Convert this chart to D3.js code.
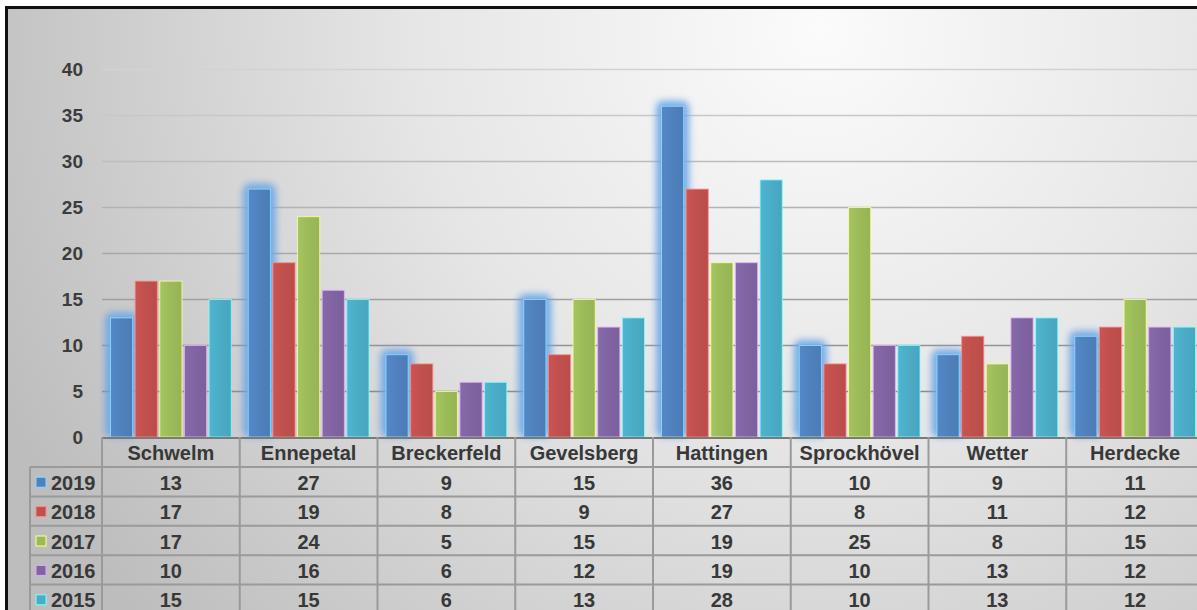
<!DOCTYPE html>
<html>
<head>
<meta charset="utf-8">
<script src="https://cdn.jsdelivr.net/npm/d3@7"></script>
<style>
html,body{margin:0;padding:0;background:#fff;overflow:hidden;}
svg{display:block;}
text{font-family:"Liberation Sans",Arial,sans-serif;font-weight:bold;}
</style>
</head>
<body>
<svg id="chart" width="1197" height="610"></svg>
<script>
const categories = ["Schwelm","Ennepetal","Breckerfeld","Gevelsberg","Hattingen","Sprockhövel","Wetter","Herdecke"];
const seriesNames = ["2019","2018","2017","2016","2015"];
const v2019 = [13,27,9,15,36,10,9,11];
const v2018 = [17,19,8,9,27,8,11,12];
const v2017 = [17,24,5,15,19,25,8,15];
const v2016 = [10,16,6,12,19,10,13,12];
const v2015 = [15,15,6,13,28,10,13,12];
const yTicks = [0,5,10,15,20,25,30,35,40];
const colors = ["#4F81BD","#C0504D","#9BBB59","#8064A2","#4BACC6"];

const seriesValues = [v2019,v2018,v2017,v2016,v2015];

const W = 1197, H = 610;
const svg = d3.select("#chart");
const defs = svg.append("defs");

// background gradient
const bg = defs.append("radialGradient").attr("id","bg")
  .attr("gradientUnits","userSpaceOnUse")
  .attr("cx",820).attr("cy",30).attr("r",900);
bg.append("stop").attr("offset","0").attr("stop-color","#fbfbfb");
bg.append("stop").attr("offset","0.45").attr("stop-color","#e6e6e6");
bg.append("stop").attr("offset","1").attr("stop-color","#bdbdbd");

// bar gradients
colors.forEach((c,i)=>{
  const g = defs.append("linearGradient").attr("id","bar"+i)
    .attr("x1","0").attr("x2","1").attr("y1","0").attr("y2","0");
  const base = d3.color(c);
  g.append("stop").attr("offset","0").attr("stop-color",base.brighter(0.15).formatHex());
  g.append("stop").attr("offset","0.5").attr("stop-color",base.formatHex());
  g.append("stop").attr("offset","1").attr("stop-color",base.darker(0.1).formatHex());
});

// glow filter
const f = defs.append("filter").attr("id","glow")
  .attr("x","-50%").attr("y","-50%").attr("width","200%").attr("height","200%");
f.append("feGaussianBlur").attr("stdDeviation",3.5);

// background
svg.append("rect").attr("x",6).attr("y",7).attr("width",W).attr("height",H)
  .attr("fill","url(#bg)");

// scales
const plotLeft = 102, plotRight = 1204, y0 = 437, yTop = 69;
const x0 = d3.scaleBand().domain(categories).range([plotLeft, plotRight]).paddingInner(0).paddingOuter(0);
const x1 = d3.scaleBand().domain(seriesNames).range([8, x0.bandwidth()-8]).paddingInner(0.06);
const y = d3.scaleLinear().domain([0,40]).range([y0, yTop]);

// gridlines
const gridColor = d3.scaleLinear().domain([5,40]).range(["#8a8a8a","#d2d2d2"]);
svg.append("g").selectAll("line").data(yTicks.filter(t=>t>0)).join("line")
  .attr("x1",plotLeft).attr("x2",W)
  .attr("y1",d=>Math.round(y(d))+0.5).attr("y2",d=>Math.round(y(d))+0.5)
  .attr("stroke",d=>gridColor(d)).attr("stroke-width",1.5);

// y axis labels
const yAxis = d3.axisLeft(y).tickValues(yTicks).tickSize(0).tickPadding(0);
const ya = svg.append("g").attr("transform",`translate(83,0)`).call(yAxis);
ya.select(".domain").remove();
ya.selectAll("text").attr("font-size",19).attr("fill","#3c3c3c")
  .style("font-family","'Liberation Sans',Arial,sans-serif").style("font-weight","bold");

// bars
const groups = svg.append("g").selectAll("g").data(categories).join("g")
  .attr("transform",d=>`translate(${x0(d)},0)`);

// glow for 2019
groups.append("rect")
  .attr("x",(d)=>x1("2019")-5)
  .attr("y",(d,i)=>y(v2019[i])-5)
  .attr("width",x1.bandwidth()+10)
  .attr("height",(d,i)=>y0-y(v2019[i])+5)
  .attr("rx",7)
  .attr("fill","#6aa5e8").attr("opacity",0.9)
  .attr("filter","url(#glow)");

seriesNames.forEach((s,si)=>{
  groups.append("rect")
    .attr("x",x1(s)+0.5)
    .attr("y",(d,i)=>y(seriesValues[si][i])+0.5)
    .attr("width",x1.bandwidth()-1)
    .attr("height",(d,i)=>y0-y(seriesValues[si][i])-0.5)
    .attr("fill",`url(#bar${si})`)
    .attr("stroke",d3.color(colors[si]).brighter(1.6).formatHex())
    .attr("stroke-opacity",0.8)
    .attr("stroke-width",1);
});

// data table
const rowH = 29.4;
const headerTop = y0, headerBottom = 467;
const lineColor = "#9a9a9a";
const tbl = svg.append("g");

// axis/top line of table
tbl.append("line").attr("x1",plotLeft).attr("x2",W).attr("y1",y0+1).attr("y2",y0+1)
  .attr("stroke","#7a7a7a").attr("stroke-width",2);

// row horizontal lines
const rowTops = seriesNames.map((s,i)=>headerBottom + i*rowH);
tbl.selectAll("line.h").data(rowTops).join("line").attr("class","h")
  .attr("x1",30).attr("x2",W).attr("y1",d=>d).attr("y2",d=>d)
  .attr("stroke",lineColor).attr("stroke-width",2);

// vertical lines
const vx = categories.map(c=>x0(c));
tbl.selectAll("line.v").data(vx).join("line").attr("class","v")
  .attr("x1",d=>d).attr("x2",d=>d).attr("y1",y0).attr("y2",H)
  .attr("stroke",lineColor).attr("stroke-width",2);
tbl.append("line").attr("x1",30).attr("x2",30).attr("y1",headerBottom).attr("y2",H)
  .attr("stroke",lineColor).attr("stroke-width",2);

// header text
tbl.selectAll("text.cat").data(categories).join("text").attr("class","cat")
  .attr("x",d=>x0(d)+x0.bandwidth()/2).attr("y",(headerTop+headerBottom)/2+1)
  .attr("text-anchor","middle").attr("dominant-baseline","central")
  .attr("font-size",20).attr("fill","#383838").text(d=>d);

// rows
seriesNames.forEach((s,si)=>{
  const cy = rowTops[si] + rowH/2 + 1;
  tbl.append("rect").attr("x",36).attr("y",cy-5.5).attr("width",10).attr("height",10)
    .attr("fill",colors[si]).attr("stroke",d3.color(colors[si]).brighter(1.5).formatHex()).attr("stroke-width",1);
  tbl.append("text").attr("x",51).attr("y",cy).attr("dominant-baseline","central")
    .attr("font-size",20).attr("fill","#383838").text(s);
  tbl.selectAll(null).data(categories).join("text")
    .attr("x",d=>x0(d)+x0.bandwidth()/2).attr("y",cy)
    .attr("text-anchor","middle").attr("dominant-baseline","central")
    .attr("font-size",20).attr("fill","#383838")
    .text((d,i)=>seriesValues[si][i]);
});

// black frame
svg.append("line").attr("x1",5).attr("x2",W).attr("y1",7.5).attr("y2",7.5).attr("stroke","#111").attr("stroke-width",3);
svg.append("line").attr("x1",6.5).attr("x2",6.5).attr("y1",6).attr("y2",H).attr("stroke","#111").attr("stroke-width",3);
</script>
</body>
</html>
